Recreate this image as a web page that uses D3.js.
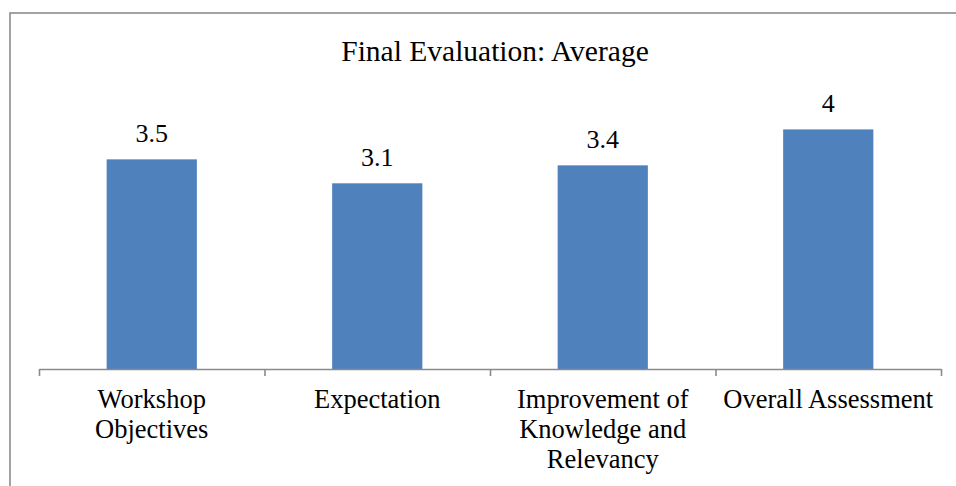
<!DOCTYPE html>
<html>
<head>
<meta charset="utf-8">
<script src="https://cdn.jsdelivr.net/npm/d3@7"></script>
<style>
  body { margin: 0; background: #fff; }
  svg text { font-family: "Liberation Serif", "Times New Roman", Tinos, "DejaVu Serif", serif; }
</style>
</head>
<body>
<svg width="956" height="486"></svg>
<script>
"use strict";
var categories = ["Workshop Objectives", "Expectation", "Improvement of Knowledge and Relevancy", "Overall Assessment"];
var averages = [3.5, 3.1, 3.4, 4];
var title = "Final Evaluation: Average";

var FONT = "'Liberation Serif', 'Times New Roman', Tinos, 'DejaVu Serif', serif";

var svg = d3.select("svg");

// chart frame (right and bottom edges fall outside the picture)
svg.append("rect")
  .attr("x", 10).attr("y", 13)
  .attr("width", 1000).attr("height", 500)
  .attr("fill", "#fff")
  .attr("stroke", "#8c8c8c")
  .attr("stroke-width", 1.6);

var x = d3.scaleBand().domain(categories).range([39, 941]).padding(0),
    edge = d3.scaleLinear().domain([0, categories.length]).range([39, 941]),
    y = d3.scaleLinear().domain([0, 5]).range([369, 69.5]);

svg.append("text")
  .attr("x", 495).attr("y", 61)
  .attr("text-anchor", "middle")
  .attr("font-family", FONT)
  .attr("font-size", "29.5px")
  .attr("fill", "#000")
  .text(title);

svg.selectAll(".bar")
  .data(averages)
  .enter().append("rect")
    .attr("class", "bar")
    .attr("x", function(d, i) { return x(categories[i]) + x.bandwidth() * 0.3; })
    .attr("width", x.bandwidth() * 0.4)
    .attr("y", function(d) { return y(d); })
    .attr("height", function(d) { return y(0) - y(d); })
    .attr("fill", "#4f81bd");

svg.selectAll(".val")
  .data(averages)
  .enter().append("text")
    .attr("class", "val")
    .attr("x", function(d, i) { return x(categories[i]) + x.bandwidth() / 2; })
    .attr("y", function(d) { return y(d) - 17; })
    .attr("text-anchor", "middle")
    .attr("font-family", FONT)
    .attr("font-size", "26px")
    .attr("fill", "#000")
    .text(function(d) { return d; });

// axis: ticks sit on the category boundaries
var axis = svg.append("g")
  .attr("transform", "translate(0," + y(0) + ")")
  .call(d3.axisBottom(edge).ticks(categories.length).tickFormat("").tickSizeInner(7).tickSizeOuter(0));
axis.select(".domain").attr("stroke", "#8a8a8a").attr("stroke-width", 1.6);
axis.selectAll(".tick line").attr("stroke", "#8a8a8a").attr("stroke-width", 1.6);

var labels = svg.selectAll(".cat")
  .data(categories)
  .enter().append("text")
    .attr("class", "cat")
    .attr("x", function(d) { return x(d) + x.bandwidth() / 2; })
    .attr("y", 408)
    .attr("text-anchor", "middle")
    .attr("font-family", FONT)
    .attr("font-size", "26.5px")
    .attr("fill", "#000");

labels.each(function(d) {
  var text = d3.select(this),
      words = d.split(" "),
      line = [],
      cx = text.attr("x"),
      tspan = text.append("tspan").attr("x", cx).attr("dy", 0);
  words.forEach(function(w) {
    line.push(w);
    tspan.text(line.join(" "));
    if (tspan.node().getComputedTextLength() > x.bandwidth() - 2 && line.length > 1) {
      line.pop();
      tspan.text(line.join(" "));
      line = [w];
      tspan = text.append("tspan").attr("x", cx).attr("dy", 30).text(w);
    }
  });
});
</script>
</body>
</html>
